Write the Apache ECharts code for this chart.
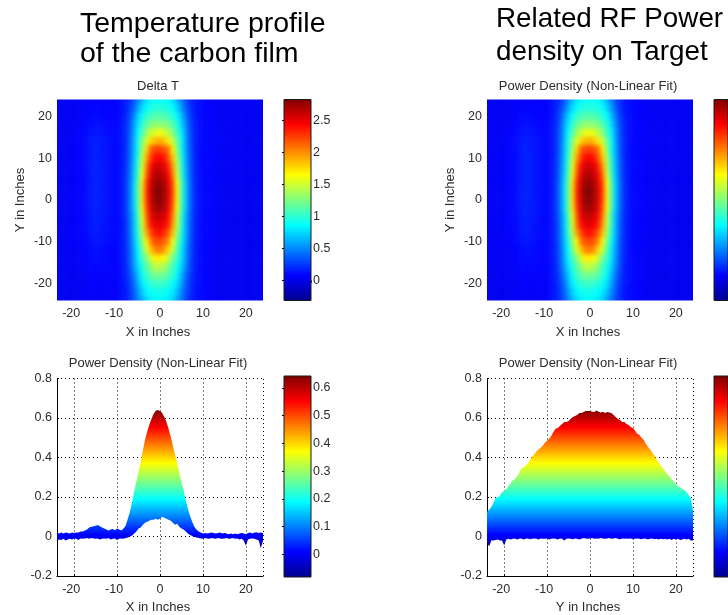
<!DOCTYPE html>
<html><head><meta charset="utf-8">
<style>html,body{margin:0;padding:0;background:#fff;overflow:hidden}
#clip,#c,#h{position:absolute;left:0;top:0;width:728px;height:615px}
#clip{clip-path:path('M57 99.5h206v201h-206z M487 99.5h206v201h-206z')}
#h{filter:blur(1.9px)}
#c{filter:blur(0.3px)}</style>
<script src="https://cdn.jsdelivr.net/npm/echarts@6/dist/echarts.min.js"></script>
</head><body><div id="clip"><div id="h"></div></div><div id="c"></div>
<script>
// Surface: rows y=24..-24 step 2, columns x=-24..24 step 1, in hundredths of Delta T.
const surfaceRows = [
[5,4,4,3,4,5,5,6,7,8,8,7,7,6,7,12,15,22,33,48,65,78,85,88,88,88,85,77,63,46,31,21,14,11,10,8,6,6,5,4,5,4,5,5,4,4,5,4,5],
[4,5,3,4,4,5,6,7,8,9,9,8,7,7,7,12,16,25,40,58,76,88,94,96,97,96,92,86,74,56,38,24,15,12,10,8,7,5,5,4,4,5,4,4,5,4,4,5,4],
[5,4,4,4,5,5,6,8,10,10,10,9,8,8,8,12,18,30,50,72,90,102,108,111,112,110,105,98,86,68,46,28,17,12,10,8,6,6,5,5,4,4,5,4,4,5,4,4,5],
[5,5,4,5,5,6,7,9,11,12,12,11,9,9,9,13,19,33,56,80,102,116,126,129,130,127,122,112,97,76,52,31,18,13,10,9,7,6,5,4,5,5,4,5,4,4,5,4,4],
[6,5,5,4,6,6,8,10,13,14,14,12,10,10,10,13,20,35,59,88,110,135,148,157,160,154,142,128,105,84,56,33,19,13,10,9,7,6,5,5,4,5,4,4,5,4,4,5,4],
[6,5,5,5,6,7,9,12,15,16,16,14,12,10,10,13,20,37,61,94,128,153,178,187,190,183,171,146,121,89,58,35,19,13,10,9,7,6,6,5,5,4,5,4,4,4,5,4,4],
[6,6,5,5,6,7,9,12,15,17,16,14,12,10,10,13,20,38,63,95,137,178,216,224,225,220,208,170,129,90,60,36,19,13,10,9,7,6,5,5,5,4,4,5,4,4,4,4,5],
[6,5,5,6,6,7,9,12,15,17,17,15,12,11,10,13,21,39,65,100,148,194,226,242,245,238,218,184,141,95,62,37,20,13,10,9,8,6,6,5,4,5,4,4,4,5,4,4,4],
[5,5,6,5,6,8,9,12,16,17,17,14,12,10,10,13,21,40,67,105,155,208,243,256,258,251,234,198,147,100,64,38,20,13,10,10,7,6,5,5,5,4,4,4,5,4,4,3,4],
[6,5,5,5,6,7,9,12,16,17,17,15,12,11,10,14,22,41,69,110,161,218,252,266,268,260,244,208,153,105,66,39,21,14,11,9,8,7,5,5,4,4,5,4,4,4,3,4,4],
[6,6,5,6,6,8,9,12,16,17,17,15,12,10,11,14,23,43,73,117,173,230,259,274,276,268,250,220,165,112,70,41,22,14,11,10,7,6,6,5,5,4,4,4,3,4,4,4,3],
[5,5,5,5,6,7,9,12,16,17,17,14,12,11,10,14,23,43,74,119,175,234,262,280,282,272,254,224,167,114,71,41,22,14,11,9,8,6,5,5,4,4,4,4,4,3,4,3,4],
[6,5,6,5,6,7,9,12,16,17,17,15,12,10,10,14,23,43,73,118,175,232,260,276,280,270,252,222,167,113,70,41,22,14,11,10,7,6,5,4,5,4,3,4,4,4,3,4,3],
[6,5,5,5,6,8,9,12,15,17,16,14,12,11,10,14,23,43,72,115,171,226,256,271,274,265,248,216,163,110,69,41,22,14,11,9,7,6,6,5,4,4,4,3,4,3,4,3,4],
[5,5,5,6,6,7,9,12,15,16,16,15,12,10,10,14,22,41,67,108,158,216,249,260,262,254,241,206,150,103,64,39,21,14,11,9,8,6,5,4,4,4,3,4,3,4,3,3,4],
[5,5,5,5,6,7,9,11,15,16,16,13,12,10,10,13,21,40,66,105,153,208,240,250,252,246,232,198,146,100,63,38,20,13,10,9,7,5,5,5,4,3,4,3,3,4,3,4,3],
[5,4,5,5,6,6,8,11,14,15,15,13,11,10,10,13,21,39,65,100,143,194,222,236,240,232,214,184,136,95,62,37,20,13,10,9,7,6,5,4,4,4,3,3,4,3,3,3,4],
[5,5,4,5,5,6,8,10,12,14,14,12,10,9,10,13,20,38,63,94,133,168,208,219,222,214,200,160,124,89,60,36,19,13,10,9,7,5,5,4,3,4,3,4,3,3,4,3,3],
[5,4,5,4,5,5,7,9,11,12,12,11,9,9,9,13,20,36,59,86,120,153,181,203,205,198,175,146,114,81,56,34,19,13,10,8,6,5,4,4,4,3,3,3,4,3,3,3,3],
[4,5,4,4,5,5,6,8,10,11,11,10,9,8,9,12,19,35,57,84,107,128,151,168,170,163,145,121,102,80,54,33,18,12,10,8,6,5,4,4,3,3,4,3,3,3,4,3,3],
[4,4,4,5,4,5,6,7,9,9,9,9,8,8,8,12,18,33,53,78,96,114,131,143,145,138,125,108,91,74,50,31,17,12,10,8,6,5,4,3,4,3,3,3,3,3,3,4,3],
[4,4,3,4,4,5,5,6,8,8,8,8,7,7,7,12,17,29,47,68,90,105,116,121,122,119,112,100,85,64,44,27,16,12,10,8,6,4,4,4,3,3,3,3,4,3,3,3,3],
[4,3,4,4,4,4,5,6,7,7,7,7,6,6,7,12,16,26,42,62,82,94,100,103,105,102,96,89,78,58,39,25,15,12,10,8,5,5,4,3,3,3,4,3,3,3,3,3,3],
[3,4,4,3,4,4,5,5,6,6,7,6,6,6,6,12,15,24,38,54,72,84,89,91,92,89,86,80,68,50,35,23,14,11,10,7,6,4,4,3,3,3,3,3,3,4,3,3,3],
[4,4,3,4,3,4,5,5,5,6,6,6,5,6,6,12,15,22,34,48,64,76,82,85,85,84,80,72,60,44,30,21,14,11,10,7,5,5,3,4,3,3,3,3,3,3,3,3,3]
];
const surfaceColumns = [-24,-23,-22,-21,-20,-19,-18,-17,-16,-15,-14,-13,-12,-11,-10,-9,-8,-7,-6,-5,-4,-3,-2,-1,0,1,2,3,4,5,6,7,8,9,10,11,12,13,14,15,16,17,18,19,20,21,22,23,24];
const surfaceRowValues = [24,22,20,18,16,14,12,10,8,6,4,2,0,-2,-4,-6,-8,-10,-12,-14,-16,-18,-20,-22,-24];

// Section envelopes, every half inch from -24 to 24.
const profilePositions = [-24,-23.5,-23,-22.5,-22,-21.5,-21,-20.5,-20,-19.5,-19,-18.5,-18,-17.5,-17,-16.5,-16,-15.5,-15,-14.5,-14,-13.5,-13,-12.5,-12,-11.5,-11,-10.5,-10,-9.5,-9,-8.5,-8,-7.5,-7,-6.5,-6,-5.5,-5,-4.5,-4,-3.5,-3,-2.5,-2,-1.5,-1,-0.5,0,0.5,1,1.5,2,2.5,3,3.5,4,4.5,5,5.5,6,6.5,7,7.5,8,8.5,9,9.5,10,10.5,11,11.5,12,12.5,13,13.5,14,14.5,15,15.5,16,16.5,17,17.5,18,18.5,19,19.5,20,20.5,21,21.5,22,22.5,23,23.5,24];
const xSectionHigh = [.02,.015,.02,.015,.02,.018,.015,.02,.018,.02,.02,.025,.025,.03,.035,.045,.05,.052,.055,.058,.052,.045,.04,.035,.03,.035,.038,.032,.04,.035,.03,.04,.055,.09,.125,.175,.23,.28,.325,.38,.435,.49,.53,.565,.595,.62,.637,.64,.635,.625,.605,.58,.545,.505,.46,.415,.37,.325,.275,.235,.185,.14,.105,.075,.05,.035,.025,.02,.015,.018,.015,.018,.02,.018,.015,.018,.02,.015,.018,.015,.012,.015,.012,.015,.012,.015,.018,.015,.012,.018,.02,.015,.02,.022,.018,.02,.018];
const xSectionLow = [-.02,-.015,-.018,-.012,-.02,-.015,-.012,-.015,-.01,-.012,-.018,-.01,-.012,-.01,-.008,-.012,-.008,-.01,-.012,-.01,-.015,-.012,-.01,-.012,-.008,-.015,-.012,-.01,-.018,-.012,-.01,-.012,-.008,-.005,0,.005,.015,.025,.04,.045,.06,.07,.075,.08,.085,.085,.09,.085,.09,.1,.095,.09,.085,.08,.07,.06,.065,.05,.04,.035,.025,.015,.008,.002,-.002,-.005,-.008,-.01,-.012,-.008,-.01,-.012,-.008,-.01,-.012,-.008,-.01,-.012,-.01,-.008,-.012,-.01,-.008,-.012,-.01,-.015,-.012,-.02,-.045,-.015,-.012,-.01,-.012,-.015,-.02,-.06,-.02];
const ySectionHigh = [.125,.135,.15,.17,.195,.2,.205,.225,.23,.24,.255,.27,.285,.29,.305,.32,.345,.35,.36,.37,.385,.405,.415,.43,.44,.45,.46,.475,.485,.495,.51,.53,.545,.55,.56,.57,.58,.58,.585,.595,.605,.61,.615,.625,.625,.63,.635,.635,.635,.632,.63,.638,.632,.628,.632,.625,.63,.628,.625,.615,.605,.595,.59,.58,.58,.57,.565,.555,.55,.535,.52,.515,.5,.49,.47,.455,.44,.425,.41,.39,.375,.36,.345,.33,.315,.305,.29,.28,.265,.255,.25,.24,.235,.225,.21,.195,.13];
const ySectionLow = [-.03,-.05,-.02,-.02,-.018,-.015,-.02,-.02,-.045,-.015,-.012,-.015,-.012,-.01,-.015,-.012,-.01,-.015,-.012,-.01,-.014,-.012,-.01,-.012,-.015,-.01,-.012,-.012,-.01,-.015,-.012,-.01,-.012,-.015,-.01,-.012,-.02,-.012,-.01,-.012,-.014,-.01,-.012,-.015,-.012,-.008,-.01,-.012,-.01,-.008,-.012,-.01,-.012,-.008,-.01,-.012,-.01,-.008,-.012,-.01,-.008,-.012,-.014,-.01,-.012,-.01,-.012,-.01,-.014,-.012,-.01,-.012,-.014,-.01,-.012,-.015,-.012,-.01,-.014,-.012,-.015,-.012,-.014,-.012,-.015,-.012,-.018,-.012,-.015,-.012,-.018,-.015,-.012,-.015,-.012,-.02,-.02];

const jetColors = ['#000090','#0000ff','#0080ff','#00ffff','#80ff80','#ffff00','#ff8000','#ff0000','#800000'];
const inchTicks = [-20,-10,0,10,20];
const deltaTRange = [-0.31,2.82];
const deltaTTicks = [0,0.5,1,1.5,2,2.5];
const powerRange = [-0.082,0.643];
const powerTicks = [0,0.1,0.2,0.3,0.4,0.5,0.6];

const FONT='"Liberation Sans",Arial,sans-serif', INK='#2b2b2b';
const stops = jetColors.map((c,i)=>({offset:i/(jetColors.length-1),color:c}));
const txt = {fontFamily:FONT,fontSize:12.5,color:INK};
const nameTxt = {fontFamily:FONT,fontSize:13,color:INK};
const dotted = {color:'#000',type:[1,3],width:1};

const surfaceData = [];
surfaceRows.forEach((row,r)=>row.forEach((v,c)=>surfaceData.push([surfaceColumns[c],surfaceRowValues[r],v/100])));

const inchLabel=(extra)=>Object.assign({customValues:inchTicks,margin:7,
  formatter:v=>v<0?`{neg|${v}}`:String(v),
  rich:{neg:Object.assign({padding:[0,6,0,0]},txt)}},txt,extra||{});

// Heat layer: same scale as the axes drawn on top, with a 2-inch bleed that the clip-path trims off.
const BLEED=2, PLOT_W=206, PLOT_H=201, PLOT_T=99.5;
const hGrids=[],hX=[],hY=[],hSeries=[],hMaps=[];
function heatLayer(left){
  const g=hGrids.length, bx=BLEED*PLOT_W/48, by=BLEED*PLOT_H/48;
  hGrids.push({left:left-bx,top:PLOT_T-by,width:PLOT_W+2*bx,height:PLOT_H+2*by});
  hX.push({gridIndex:g,type:'value',min:-24-BLEED,max:24+BLEED,show:false});
  hY.push({gridIndex:g,type:'value',min:-24-BLEED,max:24+BLEED,show:false});
  const si=hSeries.length;
  hSeries.push({type:'custom',xAxisIndex:g,yAxisIndex:g,data:surfaceData,encode:{x:0,y:1},clip:true,silent:true,
    renderItem(p,api){
      const x=api.value(0),y=api.value(1);
      const x0=x===-24?x-BLEED:x-0.5,x1=x===24?x+BLEED:x+0.5,y0=y===-24?y-BLEED:y-1,y1=y===24?y+BLEED:y+1;
      const a=api.coord([x0,y1]),b=api.coord([x1,y0]),col=api.visual('color');
      return {type:'rect',shape:{x:a[0],y:a[1],width:b[0]-a[0],height:b[1]-a[1]},style:{fill:col,stroke:col,lineWidth:0.6}};
    }});
  hMaps.push({show:false,type:'continuous',seriesIndex:si,dimension:2,min:deltaTRange[0],max:deltaTRange[1],inRange:{color:jetColors}});
}
heatLayer(57);heatLayer(487);

const grids=[],xAxes=[],yAxes=[],series=[];
function addGrid(l,t,w,h){grids.push({left:l,top:t,width:w,height:h});return grids.length-1;}

function heatmapPanel(left,yName,leftShift){
  const g=addGrid(left,PLOT_T,PLOT_W,PLOT_H);
  xAxes.push({gridIndex:g,type:'value',min:-24,max:24,name:'X in Inches',nameLocation:'middle',nameGap:25,
    nameTextStyle:Object.assign({padding:[0,leftShift,0,0]},nameTxt),
    axisLine:{show:false},axisTick:{show:false,customValues:inchTicks},splitLine:{show:false},
    axisLabel:inchLabel()});
  yAxes.push({gridIndex:g,type:'value',min:-24,max:24,name:yName,nameLocation:'middle',nameGap:30,nameTextStyle:nameTxt,
    axisLine:{show:false},axisTick:{show:false,customValues:inchTicks},splitLine:{show:false},
    axisLabel:Object.assign({customValues:inchTicks,margin:5,padding:[0,0,4,0]},txt)});
}

function sectionPanel(left,xName,high,low,leftShift){
  const g=addGrid(left,378.5,PLOT_W,199);
  xAxes.push({gridIndex:g,type:'value',min:-24,max:24,name:xName,nameLocation:'middle',nameGap:25,
    nameTextStyle:Object.assign({padding:[0,leftShift,0,0]},nameTxt),
    axisLine:{show:true,onZero:false,lineStyle:{color:'#000',width:1}},
    axisTick:{show:true,inside:true,length:2,customValues:inchTicks,lineStyle:{color:'#000'}},
    splitLine:{show:true,customValues:inchTicks,lineStyle:dotted},
    axisLabel:inchLabel()});
  yAxes.push({gridIndex:g,type:'value',min:-0.2,max:0.8,interval:0.2,
    axisLine:{show:true,onZero:false,lineStyle:{color:'#000',width:1}},
    axisTick:{show:true,inside:true,length:2,lineStyle:{color:'#000'}},
    splitLine:{show:true,lineStyle:dotted},
    axisLabel:Object.assign({margin:5,padding:[0,0,2,0]},txt)});
  series.push({type:'custom',xAxisIndex:g,yAxisIndex:g,clip:true,silent:true,encode:{x:0,y:[1,2]},z:2,
    data:profilePositions.map((x,i)=>[x,low[i],high[i]]),
    markLine:{silent:true,symbol:'none',label:{show:false},lineStyle:dotted,data:[{xAxis:24}]},
    renderItem(p,api){
      if(p.dataIndex!==0) return null;
      const upper=profilePositions.map((x,i)=>api.coord([x,high[i]]));
      const lower=profilePositions.map((x,i)=>api.coord([x,low[i]])).reverse();
      const y0=api.coord([0,powerRange[0]])[1],y1=api.coord([0,powerRange[1]])[1];
      return {type:'polygon',shape:{points:upper.concat(lower)},style:{fill:{type:'linear',x:0,y:y0,x2:0,y2:y1,global:true,colorStops:stops}}};
    }});
}

function colorbar(left,top,height,range,ticks,showLabels,feet){
  const g=addGrid(left,top,27,height);
  xAxes.push({gridIndex:g,type:'value',min:0,max:1,axisLine:{show:false},axisLabel:{show:false},splitLine:{show:false},
    axisTick:{show:!!feet,length:2,customValues:[0,1],lineStyle:{color:'#000'}}});
  yAxes.push({gridIndex:g,type:'value',position:'right',min:range[0],max:range[1],axisLine:{show:false},splitLine:{show:false},
    axisTick:{show:showLabels,inside:true,length:2,customValues:ticks,lineStyle:{color:'#000'}},
    axisLabel:Object.assign({show:showLabels,customValues:ticks,margin:2,padding:[2,0,0,0]},txt)});
  series.push({type:'custom',xAxisIndex:g,yAxisIndex:g,clip:false,silent:true,encode:{x:0,y:1},z:1,
    data:[[0,range[0],1,range[1]]],
    renderItem(p,api){
      const a=api.coord([api.value(0),api.value(3)]),b=api.coord([api.value(2),api.value(1)]);
      return {type:'rect',shape:{x:a[0],y:a[1],width:b[0]-a[0],height:b[1]-a[1]},
        style:{stroke:'#1a1a1a',lineWidth:1,fill:{type:'linear',x:0,y:b[1],x2:0,y2:a[1],global:true,colorStops:stops}}};
    }});
}

heatmapPanel(57,'Y in Inches',4);
colorbar(284,PLOT_T,PLOT_H,deltaTRange,deltaTTicks,true,true);
heatmapPanel(487,'Y in Inches',4);
colorbar(714,PLOT_T,PLOT_H,deltaTRange,deltaTTicks,false,true);
sectionPanel(57,'X in Inches',xSectionHigh,xSectionLow,4);
colorbar(284,376,PLOT_H,powerRange,powerTicks,true,false);
sectionPanel(487,'Y in Inches',ySectionHigh,ySectionLow,4);
colorbar(714,376,PLOT_H,powerRange,powerTicks,false,false);

const small=(text,x,y)=>({text,left:x,top:y,textAlign:'center',padding:0,textStyle:{fontFamily:FONT,fontSize:13,fontWeight:'normal',color:INK}});
const big=(text,x,y,s)=>({text,left:x,top:y,padding:0,textStyle:{fontFamily:FONT,fontSize:s,fontWeight:'normal',color:'#000'}});
const titles=[
  big('Temperature profile',80,10,28.5),big('of the carbon film',80,40,28.5),
  big('Related RF Power',496,5,27.8),big('density on Target',496,38,27.8),
  small('Delta T',158,79.5),small('Power Density (Non-Linear Fit)',588,79.5),
  small('Power Density (Non-Linear Fit)',158,357),small('Power Density (Non-Linear Fit)',588,357)
];

const heat=echarts.init(document.getElementById('h'));
heat.setOption({animation:false,grid:hGrids,xAxis:hX,yAxis:hY,visualMap:hMaps,series:hSeries});
const chart=echarts.init(document.getElementById('c'));
chart.setOption({animation:false,title:titles,grid:grids,xAxis:xAxes,yAxis:yAxes,series});
</script></body></html>
